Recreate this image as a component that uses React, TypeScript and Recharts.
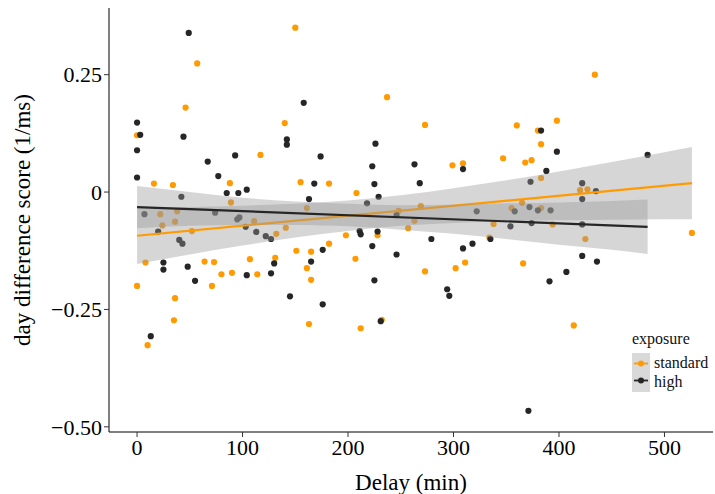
import React from "react"
import { ComposedChart, Scatter, Line, Area, XAxis, YAxis } from "recharts"

const FONT = "'Liberation Serif', 'Times New Roman', serif"
const ORANGE = "#ff9a00"
const DARK = "#262626"

// exposure = standard
const standardDelay = [
  0, 16, 34, 57, 46, 88, 89, 117, 150, 140, 155, 22, 38, 24, 36, 111, 141, 52, 8, 0,
  64, 73, 71, 80, 90, 36, 35, 10, 107, 114, 131, 151, 132, 237, 273, 299, 309, 182, 208, 161,
  269, 248, 263, 338, 257, 165, 161, 165, 182, 198, 228, 207, 163, 212, 232, 273, 302, 311, 334, 434,
  360, 398, 380, 383, 347, 368, 374, 383, 420, 427, 365, 355, 383, 394, 425, 526, 366, 414,
]
const standardScore = [
  0.121, 0.018, 0.015, 0.274, 0.18, 0.019, -0.022, 0.079, 0.35, 0.147, 0.021, -0.047, -0.041, -0.071, -0.063, -0.062, -0.076, -0.083, -0.15, -0.2,
  -0.148, -0.149, -0.2, -0.175, -0.172, -0.226, -0.273, -0.326, -0.143, -0.175, -0.14, -0.125, -0.089, 0.202, 0.143, 0.057, 0.061, 0.018, -0.002, -0.034,
  -0.03, -0.04, -0.061, -0.068, -0.077, -0.127, -0.162, -0.187, -0.11, -0.092, -0.092, -0.142, -0.281, -0.29, -0.272, -0.169, -0.162, -0.15, -0.097, 0.25,
  0.142, 0.152, 0.131, 0.102, 0.072, 0.063, 0.068, 0.03, 0.004, 0.006, -0.023, -0.034, -0.034, -0.069, -0.1, -0.087, -0.152, -0.284,
]

// exposure = high
const highDelay = [
  0, 3, 0, 0, 42, 49, 44, 67, 77, 85, 96, 104, 93, 142, 142, 7, 74, 95, 97, 103,
  20, 40, 43, 25, 25, 48, 55, 13, 104, 127, 130, 145, 113, 122, 127, 158, 226, 174, 223, 263,
  309, 168, 225, 268, 229, 163, 218, 246, 322, 211, 212, 228, 165, 176, 223, 246, 225, 176, 231, 279,
  294, 296, 309, 318, 335, 383, 398, 388, 484, 373, 422, 435, 422, 358, 372, 380, 392, 354, 374, 422,
  422, 436, 407, 391, 371,
]
const highScore = [
  0.148, 0.122, 0.089, 0.031, -0.01, 0.339, 0.118, 0.065, 0.034, -0.002, -0.002, 0.005, 0.078, 0.112, 0.101, -0.047, -0.044, -0.058, -0.054, -0.074,
  -0.084, -0.102, -0.11, -0.15, -0.165, -0.159, -0.189, -0.307, -0.177, -0.173, -0.152, -0.222, -0.085, -0.094, -0.1, 0.19, 0.103, 0.076, 0.055, 0.059,
  0.049, 0.018, 0.017, 0.019, -0.01, -0.015, -0.024, -0.049, -0.041, -0.083, -0.09, -0.084, -0.148, -0.123, -0.115, -0.133, -0.188, -0.239, -0.275, -0.1,
  -0.207, -0.221, -0.12, -0.11, -0.1, 0.131, 0.086, 0.045, 0.079, 0.022, 0.019, 0.002, -0.015, -0.041, -0.032, -0.039, -0.039, -0.073, -0.066, -0.069,
  -0.136, -0.148, -0.17, -0.19, -0.466,
]

// fitted lines (end points) and confidence bands
const standardFitX = [0, 526]
const standardFitY = [-0.093, 0.019]
const highFitX = [0, 484]
const highFitY = [-0.032, -0.074]

const standardBandX = [0, 50, 100, 150, 200, 250, 300, 350, 400, 450, 500, 526]
const standardLow = [-0.153, -0.133, -0.114, -0.097, -0.083, -0.072, -0.066, -0.062, -0.06, -0.059, -0.058, -0.058]
const standardHigh = [-0.033, -0.032, -0.029, -0.025, -0.018, -0.007, 0.008, 0.025, 0.044, 0.064, 0.085, 0.096]

const highBandX = [0, 50, 100, 150, 200, 250, 300, 350, 400, 450, 484]
const highLow = [-0.077, -0.072, -0.07, -0.07, -0.073, -0.08, -0.089, -0.1, -0.112, -0.123, -0.132]
const highHigh = [0.013, 0, -0.012, -0.02, -0.025, -0.028, -0.027, -0.024, -0.022, -0.019, -0.016]

const xTicks = [0, 100, 200, 300, 400, 500]
const yTicks = [-0.5, -0.25, 0, 0.25]
const yTickLabels = ["\u22120.50", "\u22120.25", "0", "0.25"]

const standardPoints = standardDelay.map((x, i) => ({ x, y: standardScore[i] }))
const highPoints = highDelay.map((x, i) => ({ x, y: highScore[i] }))
const standardFit = standardFitX.map((x, i) => ({ x, y: standardFitY[i] }))
const highFit = highFitX.map((x, i) => ({ x, y: highFitY[i] }))
const standardBand = standardBandX.map((x, i) => ({ x, band: [standardLow[i], standardHigh[i]] }))
const highBand = highBandX.map((x, i) => ({ x, band: [highLow[i], highHigh[i]] }))

const dot = (color: string) => (props: any) => (
  <circle cx={props.cx} cy={props.cy} r={3.1} fill={color} />
)

function YTitle(props: any) {
  const vb = props.viewBox || {}
  const cy = (vb.y ?? 8) + (vb.height ?? 424) / 2
  return (
    <text x={22} y={cy} transform={`rotate(-90, 22, ${cy})`} textAnchor="middle" dominantBaseline="central" fill="#000" fontSize={23} fontFamily={FONT}>
      day difference score (1/ms)
    </text>
  )
}

function ExposureLegend() {
  const rows = [
    { label: "standard", color: ORANGE },
    { label: "high", color: DARK },
  ]
  return (
    <div style={{ position: "absolute", left: 632, top: 330, fontFamily: FONT, fontSize: 16, color: "#111", whiteSpace: "nowrap" }}>
      <div style={{ marginBottom: 5, lineHeight: "18px" }}>exposure</div>
      <div style={{ display: "flex" }}>
        <div style={{ width: 18, background: "#d9d9d9", padding: "2px 0" }}>
          {rows.map((r) => (
            <svg key={r.label} width={18} height={17} style={{ display: "block" }}>
              <line x1={2} x2={16} y1={8.5} y2={8.5} stroke={r.color} strokeWidth={1.8} />
              <circle cx={9} cy={8.5} r={3} fill={r.color} />
            </svg>
          ))}
        </div>
        <div style={{ paddingLeft: 4, paddingTop: 1 }}>
          {rows.map((r) => (
            <div key={r.label} style={{ height: 19, lineHeight: "18px" }}>
              {r.label}
            </div>
          ))}
        </div>
      </div>
    </div>
  )
}

export default function App() {
  return (
    <div style={{ position: "absolute", left: 0, top: 0, width: 715, height: 494, background: "#fff" }}>
      <ComposedChart width={715} height={494} margin={{ top: 8, right: 2, bottom: 0, left: 0 }}>
        <XAxis
          type="number"
          dataKey="x"
          domain={[-26.6, 546]}
          ticks={xTicks}
          allowDataOverflow
          height={62}
          tickSize={5}
          stroke="#000"
          tickLine={{ stroke: "#333" }}
          tick={{ fill: "#000", fontSize: 22, fontFamily: FONT }}
          label={{ value: "Delay (min)", position: "insideBottom", offset: 4, fill: "#000", fontSize: 23, fontFamily: FONT }}
        />
        <YAxis
          type="number"
          dataKey="y"
          domain={[-0.511, 0.392]}
          ticks={yTicks}
          allowDataOverflow
          width={109}
          tickSize={5}
          stroke="#000"
          tickLine={{ stroke: "#333" }}
          tickFormatter={(v: number) => yTickLabels[yTicks.indexOf(v)] ?? String(v)}
          tick={{ fill: "#000", fontSize: 22, fontFamily: FONT }}
          label={<YTitle />}
        />
        <Scatter name="standard" data={standardPoints} dataKey="y" shape={dot(ORANGE)} isAnimationActive={false} zIndex={100} />
        <Scatter name="high" data={highPoints} dataKey="y" shape={dot(DARK)} isAnimationActive={false} zIndex={100} />
        <Area data={standardBand} dataKey="band" type="monotone" stroke="none" fill="#999999" fillOpacity={0.4} dot={false} activeDot={false} isAnimationActive={false} zIndex={200} />
        <Line data={standardFit} dataKey="y" stroke={ORANGE} strokeWidth={2.2} dot={false} activeDot={false} isAnimationActive={false} zIndex={300} />
        <Area data={highBand} dataKey="band" type="monotone" stroke="none" fill="#999999" fillOpacity={0.4} dot={false} activeDot={false} isAnimationActive={false} zIndex={400} />
        <Line data={highFit} dataKey="y" stroke={DARK} strokeWidth={2.2} dot={false} activeDot={false} isAnimationActive={false} zIndex={500} />
      </ComposedChart>
      <ExposureLegend />
    </div>
  )
}
